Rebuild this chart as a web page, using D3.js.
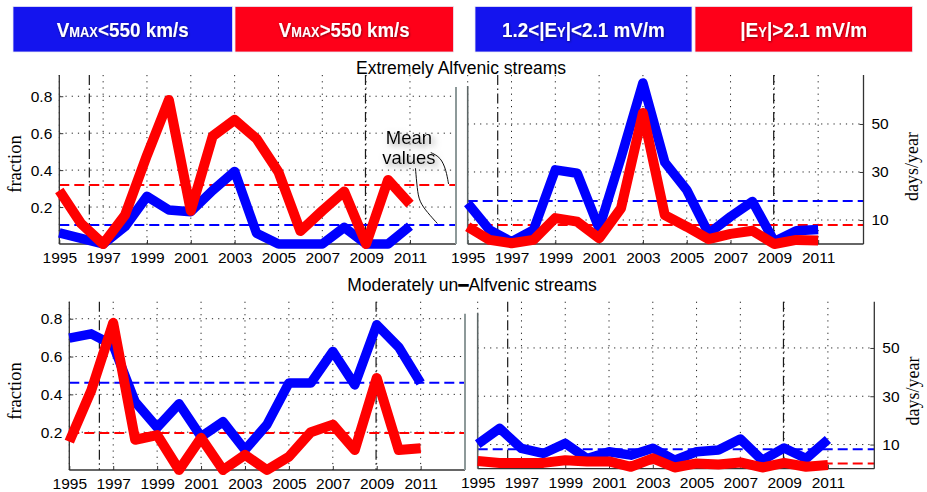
<!DOCTYPE html>
<html>
<head>
<meta charset="utf-8">
<script src="https://cdn.jsdelivr.net/npm/d3@7"></script>
<style>
  html, body { margin: 0; padding: 0; background: #fff; }
  svg { display: block; }
</style>
</head>
<body>
<svg id="chart" width="927" height="492"></svg>
<script>
// ---- data ----------------------------------------------------------------
const years = [1995, 1996, 1997, 1998, 1999, 2000, 2001, 2002, 2003,
               2004, 2005, 2006, 2007, 2008, 2009, 2010, 2011];
const yearTicks = [1995, 1997, 1999, 2001, 2003, 2005, 2007, 2009, 2011];
const fractionTicks = [0.2, 0.4, 0.6, 0.8];
const daysTicks = [10, 30, 50];
const solarMinima = [1996.37, 2008.97];

// Extremely Alfvenic streams
const extFracSlow = [0.06, 0.03, 0.0, 0.094, 0.258, 0.184, 0.175, 0.29, 0.393, 0.058, 0, 0, 0, 0.09, 0, 0, 0.097];
const extFracFast = [0.29, 0.11, 0.0, 0.157, 0.48, 0.78, 0.18, 0.584, 0.672, 0.57, 0.39, 0.07, 0.18, 0.284, 0.0, 0.347, 0.216];
const extDaysMid  = [17, 5.8, 1, 5.8, 30.9, 29.5, 6.5, 36, 67.1, 34, 22.5, 4.4, 11.4, 17.7, 1, 5.5, 6];
const extDaysHigh = [7.2, 1.7, 0.3, 1.7, 10.8, 9.3, 2.4, 14.9, 54.6, 12, 7.2, 2, 4.2, 5.5, 0, 1.7, 1.5];
const extFracMeans = [0.103, 0.32];
const extDaysMeans = [17.9, 7.9];

// Moderately un-Alfvenic streams
const modFracSlow = [0.697, 0.72, 0.66, 0.36, 0.225, 0.35, 0.176, 0.255, 0.106, 0.24, 0.46, 0.46, 0.627, 0.45, 0.768, 0.65, 0.46];
const modFracFast = [0.15, 0.42, 0.778, 0.16, 0.185, 0, 0.17, 0, 0.08, 0, 0.07, 0.2, 0.24, 0.106, 0.487, 0.106, 0.115];
const modDaysMid  = [10.2, 16.7, 8.4, 6.3, 10.5, 4.2, 7, 5.6, 8.5, 3.5, 7, 7.7, 12.3, 3.5, 8.6, 4.2, 12.1];
const modDaysHigh = [3.2, 2.4, 2.4, 2.4, 3.5, 3.0, 3.0, 0.8, 4.3, 0.5, 2.2, 1.7, 2.6, 0.5, 2.4, 0.8, 1.5];
const modFracMeans = [0.462, 0.196];
const modDaysMeans = [8.1, 2.2];

const legendLabels = [
  [["V"], ["MAX", true], ["<550 km/s"]],
  [["V"], ["MAX", true], [">550 km/s"]],
  [["1.2<|E"], ["Y", true], ["|<2.1 mV/m"]],
  [["|E"], ["Y", true], ["|>2.1 mV/m"]]
];
const legendColors = ["#1414ee", "#fe0019", "#1414ee", "#fe0019"];

// ---- styling ---------------------------------------------------------------
const BLUE = "#0000ff", RED = "#ff0000";
const SANS = "'Liberation Sans', Arial, Helvetica, sans-serif";
const SERIF = "'Liberation Serif', 'Times New Roman', serif";

const svg = d3.select("#chart");
const defs = svg.append("defs");

const legendShadow = defs.append("filter").attr("id", "legendShadow")
  .attr("x", "-10%").attr("y", "-30%").attr("width", "120%").attr("height", "160%");
legendShadow.append("feDropShadow").attr("dx", 0.6).attr("dy", 0.8)
  .attr("stdDeviation", 1).attr("flood-color", "#000").attr("flood-opacity", 0.55);

const haze = defs.append("filter").attr("id", "noteHaze")
  .attr("x", "-30%").attr("y", "-40%").attr("width", "160%").attr("height", "180%");
haze.append("feDropShadow").attr("dx", 3).attr("dy", 3)
  .attr("stdDeviation", 3.2).attr("flood-color", "#7a7a7a").attr("flood-opacity", 0.75);

// ---- legend bar -----------------------------------------------------------
const legendBoxes = [[13, 232.5], [235, 453.5], [475, 692], [695, 912.5]];
const legendWidths = [132, 131, 163, 127];
legendBoxes.forEach(([x0, x1], i) => {
  svg.append("rect")
    .attr("x", x0).attr("y", 6.5).attr("width", x1 - x0).attr("height", 45.5)
    .attr("fill", legendColors[i]).attr("stroke", "#e8e8f4").attr("stroke-width", 0.8);
  const holder = svg.append("g");
  const t = holder.append("text")
    .attr("x", 0).attr("y", 0)
    .attr("font-family", SANS).attr("font-weight", "bold").attr("font-size", 20.5)
    .attr("fill", "#fff").attr("filter", "url(#legendShadow)");
  legendLabels[i].forEach(([s, small]) => {
    t.append("tspan").attr("font-size", small ? 14 : 20.5).text(s);
  });
  // condense the label horizontally to the box's lettering width
  const natural = t.node().getComputedTextLength();
  const sx = legendWidths[i] / natural;
  holder.attr("transform",
    `translate(${(x0 + x1) / 2 - legendWidths[i] / 2},36.5) scale(${sx},1)`);
});

// ---- titles ----------------------------------------------------------------
svg.append("text").attr("x", 461).attr("y", 74)
  .attr("text-anchor", "middle").attr("font-family", SANS).attr("font-size", 17.5)
  .attr("fill", "#000").text("Extremely Alfvenic streams");

const t2 = svg.append("text").attr("x", 472).attr("y", 291)
  .attr("text-anchor", "middle").attr("font-family", SANS).attr("font-size", 17.5)
  .attr("fill", "#000");
t2.append("tspan").text("Moderately un");
t2.append("tspan").attr("font-family", "'DejaVu Sans', sans-serif").attr("font-size", 17).text("\u2501");
t2.append("tspan").text("Alfvenic streams");

// ---- panels ---------------------------------------------------------------
function drawPanel(cfg) {
  const x = d3.scaleLinear().domain([1995, cfg.xEnd]).range([cfg.left, cfg.right]);
  const y = d3.scaleLinear().domain([0, cfg.yTop]).range([cfg.bottom, cfg.top]);
  const g = svg.append("g");

  // dotted grid
  g.append("g").selectAll("line").data(yearTicks).join("line")
    .attr("x1", d => x(d)).attr("x2", d => x(d))
    .attr("y1", cfg.top).attr("y2", cfg.bottom)
    .attr("stroke", "#222").attr("stroke-width", 1).attr("stroke-dasharray", "1.2,5");
  g.append("g").selectAll("line").data(cfg.ticks).join("line")
    .attr("x1", cfg.left).attr("x2", cfg.right)
    .attr("y1", d => y(d)).attr("y2", d => y(d))
    .attr("stroke", "#222").attr("stroke-width", 1).attr("stroke-dasharray", "1.2,5");

  // solar minimum markers
  g.append("g").selectAll("line").data(solarMinima).join("line")
    .attr("x1", d => x(d)).attr("x2", d => x(d))
    .attr("y1", cfg.top).attr("y2", cfg.bottom)
    .attr("stroke", "#1a1a1a").attr("stroke-width", 1.2).attr("stroke-dasharray", "10,3.5,1.5,3.5");

  // mean levels
  g.append("g").selectAll("line").data(cfg.means).join("line")
    .attr("x1", cfg.left).attr("x2", cfg.right)
    .attr("y1", d => y(d)).attr("y2", d => y(d))
    .attr("stroke", (d, i) => i === 0 ? BLUE : RED)
    .attr("stroke-width", 2).attr("stroke-dasharray", "10,5");

  // axes
  const xAxis = g.append("g").attr("transform", `translate(0,${cfg.bottom})`)
    .call(d3.axisBottom(x).tickValues(yearTicks).tickFormat(d3.format("d"))
      .tickSize(-4).tickSizeOuter(0).tickPadding(8));
  xAxis.select(".domain").attr("stroke", "#333").attr("stroke-width", 1.3)
    .attr("d", `M${cfg.left},0H${cfg.right}`);

  if (cfg.side === "left") {
    const yAxis = g.append("g").attr("transform", `translate(${cfg.left},0)`)
      .call(d3.axisLeft(y).tickValues(cfg.ticks).tickFormat(d3.format(".1f"))
        .tickSize(-4).tickSizeOuter(0).tickPadding(7));
    yAxis.select(".domain").attr("stroke", "#333").attr("stroke-width", 1.3)
      .attr("d", `M0,${cfg.top}V${cfg.bottom}`);
    g.append("line").attr("x1", cfg.right).attr("x2", cfg.right)
      .attr("y1", cfg.top + 12).attr("y2", cfg.bottom)
      .attr("stroke", "#8d9999").attr("stroke-width", 2);
  } else {
    const yAxis = g.append("g").attr("transform", `translate(${cfg.right},0)`)
      .call(d3.axisRight(y).tickValues(cfg.ticks).tickFormat(d3.format("d"))
        .tickSize(-4).tickSizeOuter(0).tickPadding(8));
    yAxis.select(".domain").attr("stroke", "#333").attr("stroke-width", 1.3)
      .attr("d", `M0,${cfg.top}V${cfg.bottom}`);
    g.append("line").attr("x1", cfg.left).attr("x2", cfg.left)
      .attr("y1", cfg.top + 11).attr("y2", cfg.bottom)
      .attr("stroke", "#5d6666").attr("stroke-width", 1.6);
  }
  g.selectAll(".tick line").attr("stroke", "#333");
  g.selectAll(".tick text").attr("font-family", SANS).attr("font-size", 15.5).attr("fill", "#000");

  // series
  const line = d3.line().x((d, i) => x(years[i])).y(d => y(d));
  cfg.series.forEach((s, i) => {
    g.append("path").datum(s)
      .attr("d", line).attr("fill", "none")
      .attr("stroke", i === 0 ? BLUE : RED)
      .attr("stroke-width", i === 0 ? 9.5 : 10)
      .attr("stroke-linejoin", "round")
      .attr("stroke-linecap", "butt");
  });
  return { x, y };
}

const extLeft = drawPanel({
  left: 59.3, right: 456, xEnd: 2013.1, top: 75, bottom: 244, yTop: 0.915,
  ticks: fractionTicks, side: "left", means: extFracMeans, series: [extFracSlow, extFracFast]
});
drawPanel({
  left: 467.7, right: 863.5, xEnd: 2013.07, top: 75, bottom: 244, yTop: 70.4,
  ticks: daysTicks, side: "right", means: extDaysMeans, series: [extDaysMid, extDaysHigh]
});
drawPanel({
  left: 69.3, right: 465, xEnd: 2013.02, top: 301.7, bottom: 470, yTop: 0.89,
  ticks: fractionTicks, side: "left", means: modFracMeans, series: [modFracSlow, modFracFast]
});
drawPanel({
  left: 477.7, right: 874.3, xEnd: 2013.12, top: 301.7, bottom: 468.7, yTop: 69.15,
  ticks: daysTicks, side: "right", means: modDaysMeans, series: [modDaysMid, modDaysHigh]
});

// ---- axis titles -----------------------------------------------------------
[[20.5, 164], [20.5, 391]].forEach(([px, py]) => {
  svg.append("text").attr("transform", `translate(${px},${py}) rotate(-90)`)
    .attr("text-anchor", "middle").attr("font-family", SERIF).attr("font-size", 18.5)
    .attr("fill", "#000").text("fraction");
});
[[917.5, 166.5], [918.5, 391]].forEach(([px, py]) => {
  svg.append("text").attr("transform", `translate(${px},${py}) rotate(-90)`)
    .attr("text-anchor", "middle").attr("font-family", SERIF).attr("font-size", 18)
    .attr("fill", "#000").text("days/year");
});

// ---- "Mean values" note with leader lines ----------------------------------
const ex = extLeft.x, ey = extLeft.y;
const note = svg.append("g").attr("font-family", SANS).attr("font-size", 18.5)
  .attr("fill", "#000").attr("text-anchor", "middle");
note.append("text").attr("x", ex(2010.95)).attr("y", ey(0.543)).attr("filter", "url(#noteHaze)").text("Mean");
note.append("text").attr("x", ex(2010.95)).attr("y", ey(0.432)).attr("filter", "url(#noteHaze)").text("values");

const leader = d3.line().curve(d3.curveBasis).x(d => ex(d[0])).y(d => ey(d[1]));
svg.append("path")
  .datum([[2011.95, 0.495], [2012.4, 0.47], [2012.65, 0.40], [2012.76, extFracMeans[1] + 0.005]])
  .attr("d", leader).attr("fill", "none").attr("stroke", "#111").attr("stroke-width", 1);
svg.append("path")
  .datum([[2011.25, 0.41], [2011.33, 0.30], [2011.42, 0.23], [2011.8, 0.17], [2012.25, extFracMeans[0] + 0.008]])
  .attr("d", leader).attr("fill", "none").attr("stroke", "#111").attr("stroke-width", 1);
</script>
</body>
</html>
